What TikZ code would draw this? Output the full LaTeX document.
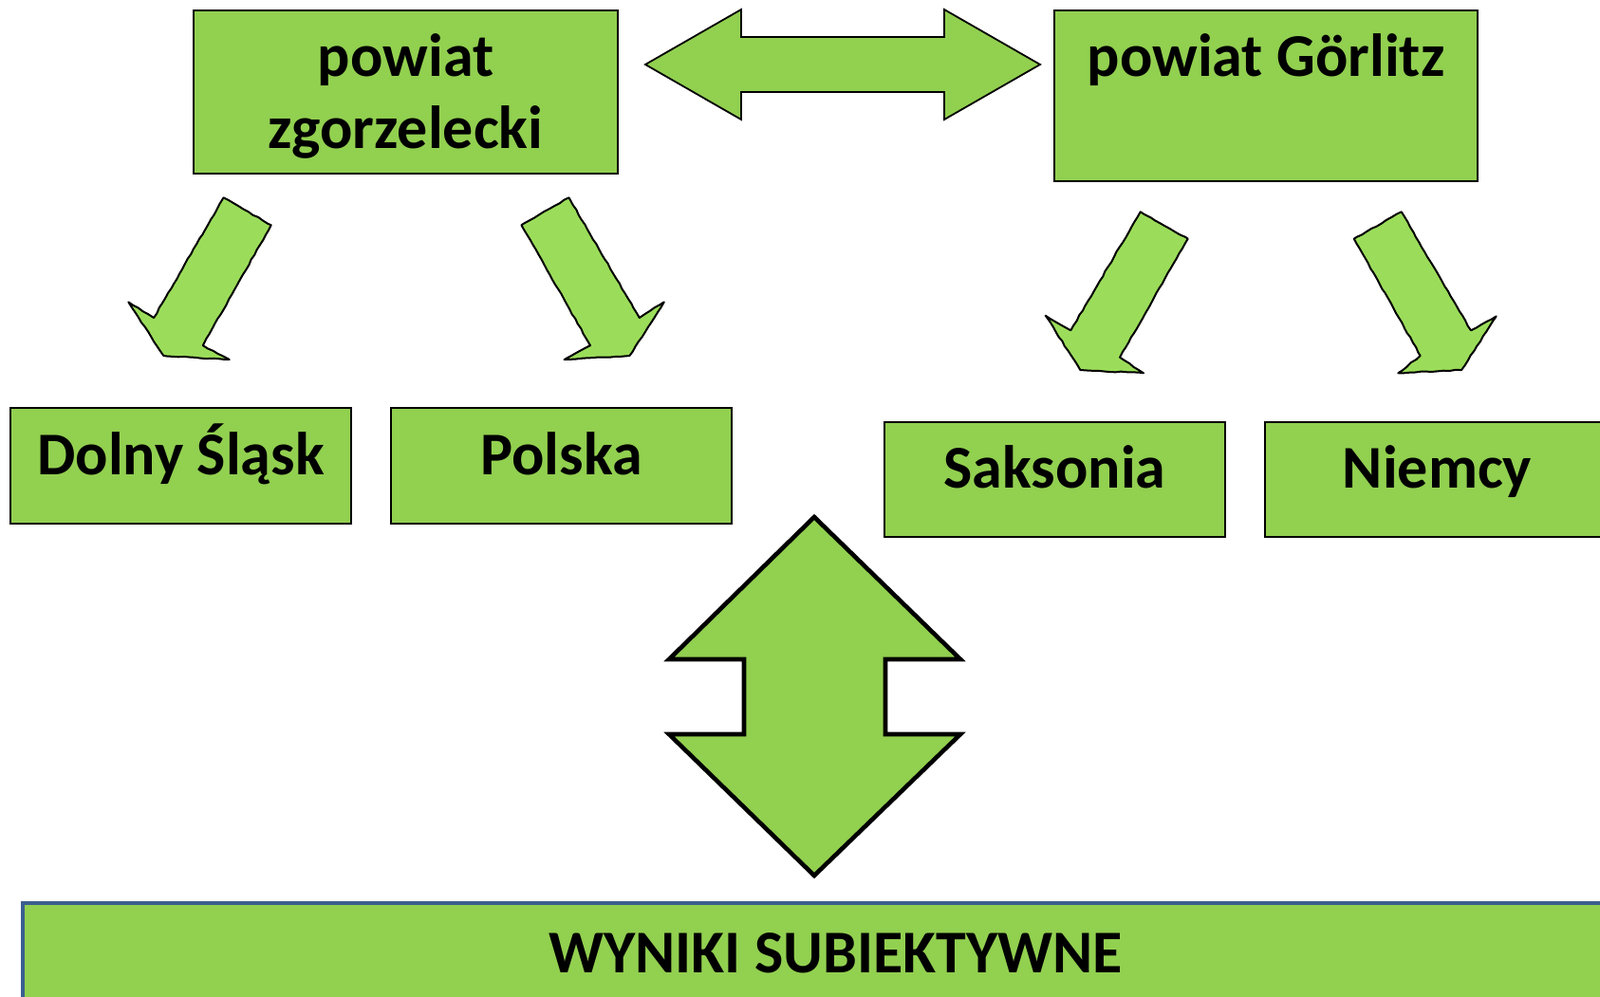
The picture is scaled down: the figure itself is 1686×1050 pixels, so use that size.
\documentclass[tikz,border=0pt]{standalone}
\usepackage{fontspec}
\setmainfont{Carlito}
\usetikzlibrary{fit,decorations.pathmorphing}
\definecolor{boxgreen}{HTML}{92D050}
\definecolor{arrgreen}{HTML}{9BDD5A}
\definecolor{rimblue}{HTML}{3A5F8E}
\begin{document}
\begin{tikzpicture}[x=0.5pt,y=-0.5pt,
  box/.style={draw=black, line width=1pt, fill=boxgreen, inner sep=0pt},
  bottombox/.style={draw=rimblue, line width=2.2pt, fill=boxgreen, inner sep=0pt},
  lbl/.style={anchor=base, inner sep=0pt, font=\fontsize{32pt}{38pt}\selectfont\bfseries},
  flatarrow/.style={draw=black, line width=0.9pt, fill=boxgreen, line join=miter},
  bigarrow/.style={draw=black, line width=2.3pt, fill=boxgreen, line join=miter},
  sketcharrow/.style={draw=black, line width=1pt, fill=arrgreen, line join=round,
    decorate, decoration={random steps, segment length=3pt, amplitude=0.25pt}}]
\useasboundingbox (0,0) rectangle (1686,1050);
\clip (0,0) rectangle (1686,1050);

% top boxes
\node[box, fit={(204,11) (651,183)}] (zg) {};
\node[box, fit={(1111,11) (1557,191)}] (gr) {};
\node[lbl] (zgA) at (427.5,80) {powiat};
\node[lbl] (zgB) at (427.5,156) {zgorzelecki};
\node[lbl] (grA) at (1334,80) {powiat Görlitz};

% horizontal double arrow
\draw[flatarrow] (680,68) -- (781,10) -- (781,39) -- (995,39) -- (995,10)
  -- (1096,68) -- (995,126) -- (995,97) -- (781,97) -- (781,126) -- cycle;

% second row boxes
\node[box, fit={(11,430) (370,552)}] (ds) {};
\node[box, fit={(412,430) (771,552)}] (pl) {};
\node[box, fit={(932,445) (1291,566)}] (sa) {};
\node[box, fit={(1333,445) (1696,566)}] (ni) {};
\node[lbl] (dsT) at (190.5,500) {Dolny Śląsk};
\node[lbl] (plT) at (591.5,500) {Polska};
\node[lbl] (saT) at (1111.5,514) {Saksonia};
\node[lbl] (niT) at (1514.5,514) {Niemcy};

% diagonal arrows
\draw[sketcharrow] (235.6,208.3) -- (285.7,237.3) -- (213.8,364.3) -- (241.7,379)
  -- (172.4,375) -- (135.3,318.3) -- (162.1,335) -- cycle;
\draw[sketcharrow] (599.5,208.3) -- (549.4,237.3) -- (622.1,364.3) -- (594.6,379)
  -- (663.4,375) -- (699.8,318.3) -- (673.8,335) -- cycle;
\draw[sketcharrow] (1201.7,223.3) -- (1251.7,251.7) -- (1180,376.7) -- (1205,393.3)
  -- (1138.3,390) -- (1101.7,332.7) -- (1128.3,348.3) -- cycle;
\draw[sketcharrow] (1476.7,223.3) -- (1426.7,251.7) -- (1496.7,375) -- (1473.3,393.3)
  -- (1540,390) -- (1576.7,333.3) -- (1550,348.3) -- cycle;

% vertical double arrow
\draw[bigarrow] (858,545) -- (1012,695) -- (933,695) -- (933,774) -- (1012,774)
  -- (858,923) -- (705,774) -- (784,774) -- (784,695) -- (705,695) -- cycle;

% bottom box
\node[bottombox, fit={(24,952) (1740,1110)}] (wy) {};
\node[lbl] (wyT) at (880.5,1025) {WYNIKI SUBIEKTYWNE};
\end{tikzpicture}
\end{document}
